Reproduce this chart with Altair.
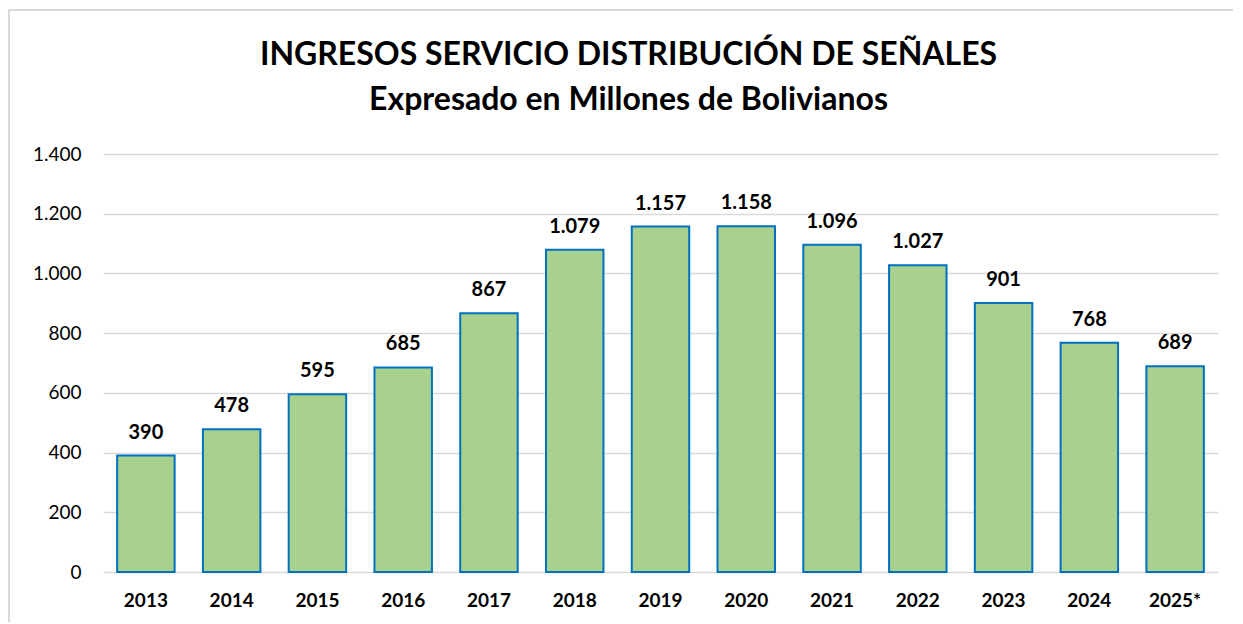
import altair as alt
import pandas as pd

years = ["2013", "2014", "2015", "2016", "2017", "2018", "2019", "2020", "2021", "2022", "2023", "2024", "2025*"]
values = [390, 478, 595, 685, 867, 1079, 1157, 1158, 1096, 1027, 901, 768, 689]
y_ticks = [0, 200, 400, 600, 800, 1000, 1200, 1400]

df = pd.DataFrame({"year": years, "value": values})
df["label"] = [f"{v:,}".replace(",", ".") for v in values]

FONT = "Lato"

x = alt.X("year:N", sort=years, title=None,
          scale=alt.Scale(paddingInner=0.33, paddingOuter=0.165),
          axis=alt.Axis(labelAngle=0, labelFontWeight="bold", labelFontSize=19,
                        labelColor="#000000", ticks=False, domain=False, labelPadding=19,
                        labelFont=FONT))
y = alt.Y("value:Q", title=None,
          scale=alt.Scale(domain=[0, 1400], nice=False),
          axis=alt.Axis(values=y_ticks, labelFontSize=19, labelColor="#000000",
                        labelFont=FONT, ticks=False, domain=False, labelPadding=22,
                        gridColor="#d9d9d9", gridWidth=1.5,
                        labelExpr="replace(format(datum.value, ','), ',', '.')"))

bars = alt.Chart(df).mark_bar(color="#A9D18E", stroke="#0070C0", strokeWidth=2).encode(x=x, y=y)
labels = alt.Chart(df).mark_text(dy=-13, baseline="bottom", fontSize=20, fontWeight="bold",
                                 font=FONT, color="#000000").encode(
    x=alt.X("year:N", sort=years), y="value:Q", text="label:N")

frame_top = alt.Chart(df).mark_rule(color="#d9d9d9", strokeWidth=2).encode(
    x=alt.value(-95), x2=alt.value(1140), y=alt.value(-144))
frame_left = alt.Chart(df).mark_rule(color="#d9d9d9", strokeWidth=2).encode(
    x=alt.value(-94), y=alt.value(-144), y2=alt.value(480))

chart = (frame_top + frame_left + bars + labels).properties(
    width=1115, height=418,
    title=alt.TitleParams(
        text=["INGRESOS  SERVICIO DISTRIBUCIÓN DE SEÑALES", "Expresado en Millones de  Bolivianos"],
        fontSize=32, fontWeight="bold", font=FONT, color="#000000",
        lineHeight=45, anchor="middle", dx=-32, offset=-108),
    autosize=alt.AutoSizeParams(type="none"),
    padding={"left": 95, "top": 146, "right": 15, "bottom": 50},
).configure_view(stroke=None)

chart.save("out.html", embed_options={"renderer": "svg", "actions": False})
